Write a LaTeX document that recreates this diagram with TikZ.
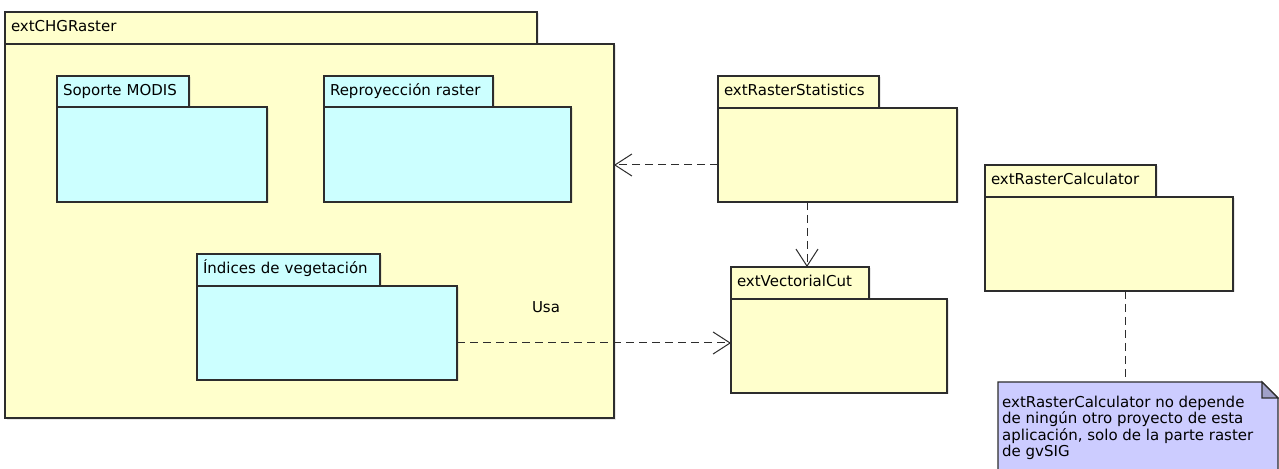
\documentclass[tikz,border=0pt]{standalone}
\usepackage{fontspec}
\setmainfont{DejaVu Sans}
\usetikzlibrary{arrows.meta,shadows,calc}
\definecolor{pkgyellow}{RGB}{255,255,204}
\definecolor{pkgcyan}{RGB}{204,255,255}
\definecolor{notefill}{RGB}{204,204,255}
\definecolor{notefold}{RGB}{160,160,200}
\definecolor{linec}{RGB}{45,45,45}
\newcommand{\lblfont}{\fontsize{15bp}{16.6bp}\selectfont}
\begin{document}
\begin{tikzpicture}[x=1bp,y=-1bp,
  base/.style={draw=linec, line width=1.2bp, inner sep=0pt, outer sep=0pt, anchor=north west,
    drop shadow={shadow xshift=1.5bp,shadow yshift=-1.5bp,opacity=0.18}},
  tabbox/.style={base, font=\lblfont, inner xsep=6bp, align=left, text height=11bp, text depth=3.5bp},
  bodybox/.style={base},
  yel/.style={fill=pkgyellow},
  cya/.style={fill=pkgcyan},
  dep/.style={draw=linec, line width=1bp, dash pattern=on 8bp off 5bp, -{Straight Barb[length=17bp,width=22bp]}},
  conn/.style={draw=linec, line width=1bp, dash pattern=on 8bp off 5bp},
  lbl/.style={font=\lblfont, inner sep=0pt}
]
\useasboundingbox (0,0) rectangle (1279,469);
\clip (0,0) rectangle (1279,469);
\fill[white] (0,0) rectangle (1279,469);

% extCHGRaster
\node[tabbox,yel,text width=520bp,minimum height=32bp] (chgtab) at (5,12) {extCHGRaster};
\node[bodybox,yel,minimum width=609bp,minimum height=374bp] (chgbody) at (5,44) {};

% Soporte MODIS
\node[tabbox,cya,text width=120bp,minimum height=31bp] (smtab) at (57,76) {Soporte MODIS};
\node[bodybox,cya,minimum width=210bp,minimum height=95bp] (smbody) at (57,107) {};

% Reproyeccion raster
\node[tabbox,cya,text width=157bp,minimum height=31bp] (rptab) at (324,76) {Reproyección raster};
\node[bodybox,cya,minimum width=247bp,minimum height=95bp] (rpbody) at (324,107) {};

% Indices de vegetacion
\node[tabbox,cya,text width=171bp,minimum height=32bp] (ivtab) at (197,254) {Índices de vegetación};
\node[bodybox,cya,minimum width=260bp,minimum height=94bp] (ivbody) at (197,286) {};

% extRasterStatistics
\node[tabbox,yel,text width=149bp,minimum height=32bp] (rstab) at (718,76) {extRasterStatistics};
\node[bodybox,yel,minimum width=239bp,minimum height=94bp] (rsbody) at (718,108) {};

% extVectorialCut
\node[tabbox,yel,text width=126bp,minimum height=32bp] (vctab) at (731,267) {extVectorialCut};
\node[bodybox,yel,minimum width=216bp,minimum height=94bp] (vcbody) at (731,299) {};

% extRasterCalculator
\node[tabbox,yel,text width=159bp,minimum height=32bp] (catab) at (985,165) {extRasterCalculator};
\node[bodybox,yel,minimum width=248bp,minimum height=94bp] (cabody) at (985,197) {};

% Note
\node[anchor=north west, inner sep=0pt, outer sep=0pt, minimum width=280bp, minimum height=95bp] (note) at (998,382) {};
\filldraw[fill=notefill, draw=linec, line width=1.2bp]
  (note.north west) -- ($(note.north east)+(-16,0)$) -- ($(note.north east)+(0,16)$)
  -- (note.south east) -- (note.south west) -- cycle;
\filldraw[fill=notefold, draw=linec, line width=1.2bp]
  ($(note.north east)+(-16,0)$) -- ($(note.north east)+(-16,16)$) -- ($(note.north east)+(0,16)$) -- cycle;
\node[lbl, anchor=north west, align=left] (notetext) at (1002,395.5)
  {extRasterCalculator no depende\\de ningún otro proyecto de esta\\aplicación, solo de la parte raster\\de gvSIG};

% Connectors
\draw[dep] ([yshift=-10bp]rsbody.west) -- ([yshift=-10bp]rsbody.west -| chgbody.east);
\draw[dep] ([xshift=-30.5bp]rsbody.south) -- ([xshift=-30.5bp]rsbody.south |- vctab.north);
\draw[dep] ([yshift=-10bp]ivbody.east) -- ([yshift=-10bp]ivbody.east -| vcbody.west);
\draw[conn] ([xshift=16bp]cabody.south) -- ([xshift=16bp]cabody.south |- note.north);

\node[lbl] (usa) at (546,307) {Usa};
\end{tikzpicture}
\end{document}
